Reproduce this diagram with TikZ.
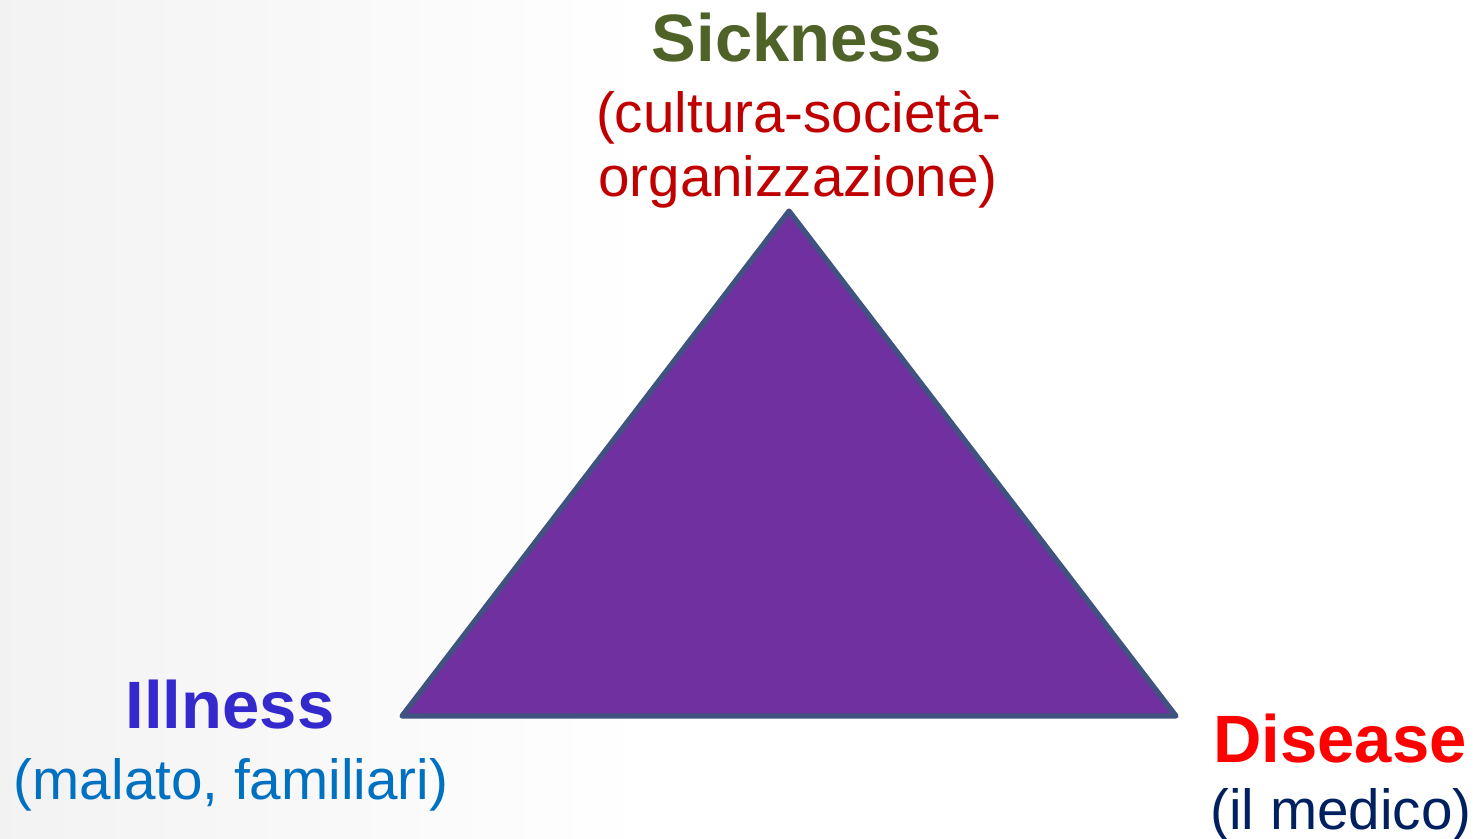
\documentclass[tikz,border=0pt]{standalone}
\usepackage{fontspec}
\setmainfont{Liberation Sans}
\usepackage{tikz}
\usetikzlibrary{positioning}
\definecolor{sgreen}{HTML}{4F6228}
\definecolor{sred}{HTML}{C00000}
\definecolor{iblue}{HTML}{3429CC}
\definecolor{ilight}{HTML}{0070C0}
\definecolor{dred}{HTML}{FF0000}
\definecolor{dnavy}{HTML}{002060}
\definecolor{trifill}{HTML}{7030A0}
\definecolor{triedge}{HTML}{40527F}
\tikzset{
  head/.style={font=\fontsize{33.5}{38}\selectfont\bfseries,anchor=base,inner sep=0pt},
  sub/.style={font=\fontsize{28.3}{32}\selectfont,anchor=base,inner sep=0pt},
  tri/.style={draw=triedge,fill=trifill,line width=2.6pt,line join=round},
}
\begin{document}
\begin{tikzpicture}[x=0.5pt,y=-0.5pt]
    \useasboundingbox (0,0) rectangle (1477,839);
    \shade[left color=black!5,right color=white] (0,0) rectangle (650,839);
    % corners of the triangle
    \coordinate (apex) at (789,211);
    \coordinate (lft) at (402,716);
    \coordinate (rgt) at (1176,716);
    \draw[tri] (apex) -- (rgt) -- (lft) -- cycle;
    % sickness
    \node[head,text=sgreen] (sick) at (797,62) {Sickness};
    \node[sub,text=sred] (sicksuba) at (799,133) {(cultura-società-};
    \node[sub,text=sred] (sicksubb) at (798,197) {organizzazione)};
    % illness
    \node[head,text=iblue] (ill) at (230,728) {Illness};
    \node[sub,text=ilight] (illsub) at (231,799) {(malato, familiari)};
    % disease
    \node[head,text=dred] (dis) at (1340,762) {Disease};
    \node[sub,text=dnavy] (dissub) at (1341,829) {(il medico)};
  \end{tikzpicture}
\end{document}
